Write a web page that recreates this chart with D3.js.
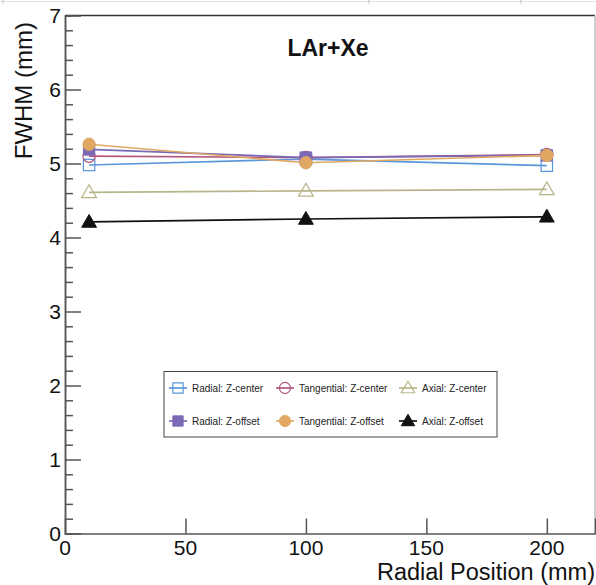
<!DOCTYPE html>
<html>
<head>
<meta charset="utf-8">
<script src="https://cdn.jsdelivr.net/npm/d3@7"></script>
<style>
  html, body { margin: 0; padding: 0; background: #fff; }
  svg { display: block; font-family: "Liberation Sans", Arial, Helvetica, sans-serif; }
</style>
</head>
<body>
<svg id="chart" width="596" height="585"></svg>
<script>
// Radial positions (mm) at which FWHM was measured
const positions = [10, 100, 200];

// FWHM (mm) per resolution component and source placement
const radialCenter = [4.98, 5.06, 4.97];
const tangentialCenter = [5.10, 5.08, 5.12];
const axialCenter = [4.61, 4.63, 4.65];
const radialOffset = [5.19, 5.08, 5.11];
const tangentialOffset = [5.26, 5.01, 5.11];
const axialOffset = [4.21, 4.25, 4.28];

const seriesNames = [
  "Radial: Z-center", "Tangential: Z-center", "Axial: Z-center",
  "Radial: Z-offset", "Tangential: Z-offset", "Axial: Z-offset"
];

const xTickValues = [0, 50, 100, 150, 200];
const yTickValues = [0, 1, 2, 3, 4, 5, 6, 7];

const W = 596, H = 585;
const plotLeft = 65, plotRight = 595, plotTop = 15.5, plotBottom = 533.5;

const x = d3.scaleLinear().domain([0, 220]).range([plotLeft, plotRight]);
const y = d3.scaleLinear().domain([0, 7]).range([plotBottom, plotTop]);

const svg = d3.select("#chart");

// faint strip along the top edge
svg.append("line").attr("x1", 0).attr("x2", W).attr("y1", 1.5).attr("y2", 1.5)
  .attr("stroke", "#e4e4e4").attr("stroke-width", 1);
[3, 369, 521].forEach(px => svg.append("line").attr("x1", px).attr("x2", px)
  .attr("y1", 0).attr("y2", 3.5).attr("stroke", "#cfcfcf").attr("stroke-width", 1.5));

// frame: top dark, right light
svg.append("line").attr("x1", plotLeft).attr("x2", plotRight).attr("y1", plotTop).attr("y2", plotTop)
  .attr("stroke", "#333").attr("stroke-width", 1.5);
svg.append("line").attr("x1", plotRight).attr("x2", plotRight).attr("y1", plotTop).attr("y2", plotBottom)
  .attr("stroke", "#bdbdbd").attr("stroke-width", 1.5);

// y axis: minor ticks every 0.2, major every 1, drawn inward
const yMinor = d3.range(0, 7.0001, 0.2).map(v => +v.toFixed(1)).filter(v => Math.abs(v - Math.round(v)) > 1e-6);
const yAxisMinor = svg.append("g").attr("transform", `translate(${plotLeft},0)`)
  .call(d3.axisRight(y).tickValues(yMinor).tickSize(8).tickFormat(""));
const yAxisMajor = svg.append("g").attr("transform", `translate(${plotLeft},0)`)
  .call(d3.axisRight(y).tickValues(yTickValues).tickSize(16).tickFormat(""));
[yAxisMinor, yAxisMajor].forEach(g => {
  g.select(".domain").attr("stroke", "#555").attr("stroke-width", 1.5);
  g.selectAll(".tick line").attr("stroke", "#555").attr("stroke-width", 1.5);
});
yAxisMajor.selectAll(".tick").filter(d => d === 0 || d === 7).select("line").remove();

svg.append("g").selectAll("text").data(yTickValues).join("text")
  .attr("x", 61).attr("y", d => y(d)).attr("dy", "0.36em")
  .attr("text-anchor", "end").attr("font-size", 21).attr("fill", "#111")
  .text(d => d);

// x axis: major ticks drawn upward
const xAxis = svg.append("g").attr("transform", `translate(0,${plotBottom})`)
  .call(d3.axisTop(x).tickValues(xTickValues).tickSize(15).tickFormat(""));
xAxis.select(".domain").attr("stroke", "#555").attr("stroke-width", 1.5);
xAxis.selectAll(".tick line").attr("stroke", "#555").attr("stroke-width", 1.5);
xAxis.selectAll(".tick").filter(d => d === 0).select("line").remove();

svg.append("g").selectAll("text").data(xTickValues).join("text")
  .attr("x", d => x(d)).attr("y", 555)
  .attr("text-anchor", "middle").attr("font-size", 21).attr("fill", "#111")
  .text(d => d);

// axis titles
svg.append("text").attr("x", plotRight).attr("y", 580).attr("text-anchor", "end")
  .attr("font-size", 23.5).attr("fill", "#111").text("Radial Position (mm)");
svg.append("text").attr("transform", "translate(32,22) rotate(-90)")
  .attr("text-anchor", "end").attr("font-size", 24).attr("fill", "#111").text("FWHM (mm)");

// plot title
svg.append("text").attr("x", 328).attr("y", 56).attr("text-anchor", "middle")
  .attr("font-size", 23).attr("font-weight", "bold").attr("fill", "#111").text("LAr+Xe");

// series
const series = [
  { name: seriesNames[0], values: radialCenter,     color: "#5a98da", shape: "square",   filled: false },
  { name: seriesNames[1], values: tangentialCenter, color: "#b4557e", shape: "circle",   filled: false },
  { name: seriesNames[2], values: axialCenter,      color: "#b9b58a", shape: "triangle", filled: false },
  { name: seriesNames[3], values: radialOffset,     color: "#7c69b4", shape: "square",   filled: true },
  { name: seriesNames[4], values: tangentialOffset, color: "#e0a862", shape: "circle",   filled: true },
  { name: seriesNames[5], values: axialOffset,      color: "#111111", shape: "triangle", filled: true }
];

const symbolSize = { square: 130, circle: 120, triangle: 95 };
const symbolType = { square: d3.symbolSquare, circle: d3.symbolCircle, triangle: d3.symbolTriangle };

function drawMarker(g, s, cx, cy, scale) {
  const k = scale || 1;
  const sym = d3.symbol().type(symbolType[s.shape]).size(symbolSize[s.shape] * k * k);
  g.append("path").attr("d", sym())
    .attr("transform", `translate(${cx},${cy + (s.shape === "triangle" ? k : 0)})`)
    .attr("fill", s.filled ? s.color : "none")
    .attr("stroke", s.color).attr("stroke-width", s.filled ? 1 : 1.2);
}

const line = d3.line().x((d, i) => x(positions[i])).y(d => y(d));
const plot = svg.append("g");
series.forEach(s => {
  plot.append("path").datum(s.values).attr("d", line)
    .attr("fill", "none").attr("stroke", s.color).attr("stroke-width", 1.7);
});
series.forEach(s => {
  s.values.forEach((v, i) => drawMarker(plot, s, x(positions[i]), y(v)));
});

// legend
const lg = svg.append("g");
lg.append("rect").attr("x", 164).attr("y", 371.5).attr("width", 333).attr("height", 65.5)
  .attr("fill", "#fff").attr("stroke", "#444").attr("stroke-width", 1);
const colX = [178, 285, 408];
const rowY = [388, 421];
series.forEach((s, i) => {
  const cx = colX[i % 3], cy = rowY[Math.floor(i / 3)];
  lg.append("line").attr("x1", cx - 9).attr("x2", cx + 9).attr("y1", cy).attr("y2", cy)
    .attr("stroke", s.color).attr("stroke-width", 1.7);
  drawMarker(lg, s, cx, cy, 0.9);
  lg.append("text").attr("x", cx + 14).attr("y", cy).attr("dy", "0.35em")
    .attr("font-size", 10).attr("fill", "#222").text(s.name);
});
</script>
</body>
</html>
